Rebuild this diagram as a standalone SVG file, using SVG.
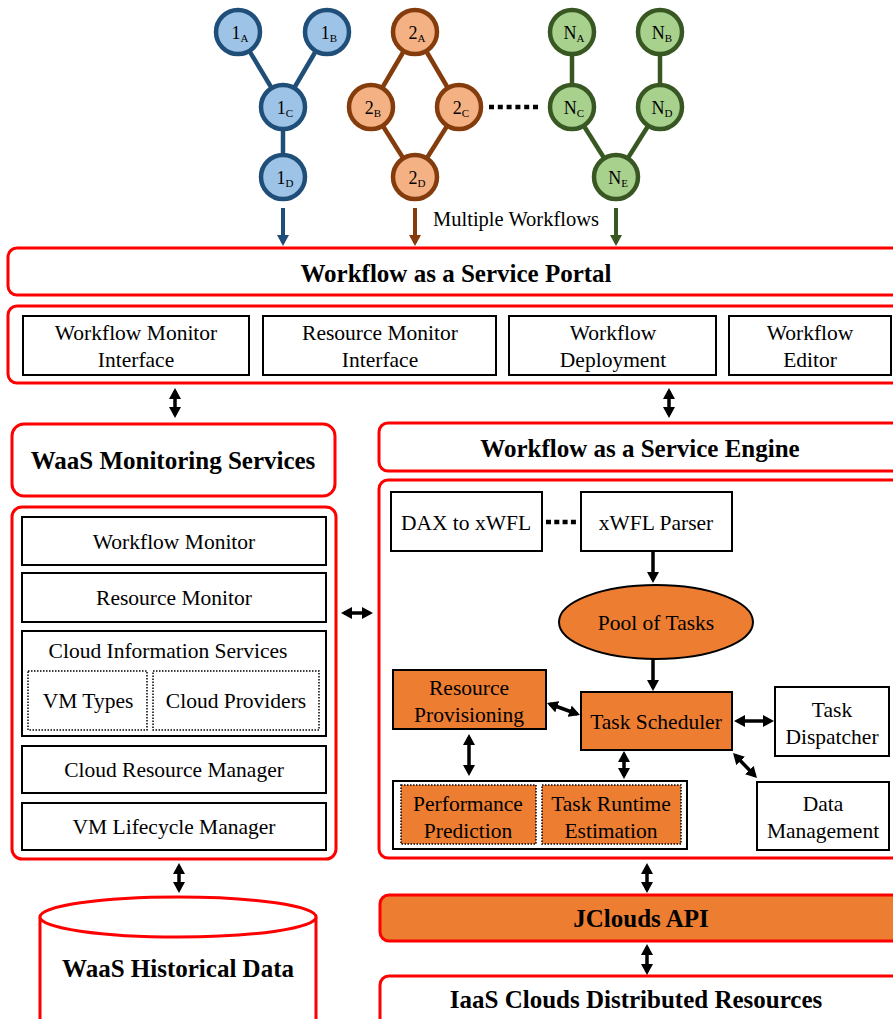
<svg xmlns="http://www.w3.org/2000/svg" width="893" height="1019" viewBox="0 0 893 1019">
<style>
.red{fill:#fff;stroke:#FF0000;stroke-width:3}
.redo{fill:#ED7D31;stroke:#FF0000;stroke-width:3}
.box{fill:#fff;stroke:#000;stroke-width:2}
.obox{fill:#ED7D31;stroke:#000;stroke-width:2}
.dot{fill:#fff;stroke:#000;stroke-width:1.5;stroke-dasharray:1.5,1.5}
.odot{fill:#ED7D31;stroke:#000;stroke-width:1.5;stroke-dasharray:1.5,1.5}
.c1{fill:#9DC3E6;stroke:#1F4E79;stroke-width:4.5}
.c2{fill:#F4B183;stroke:#843C0C;stroke-width:4.5}
.c3{fill:#A9D18E;stroke:#385723;stroke-width:4.5}
.e1{stroke:#1F4E79;stroke-width:4.5}
.e2{stroke:#843C0C;stroke-width:4.5}
.e3{stroke:#385723;stroke-width:4.5}
.dbl{stroke:#000;stroke-width:3.5;fill:none;marker-start:url(#ah);marker-end:url(#ah)}
.one{stroke:#000;stroke-width:3.5;fill:none;marker-end:url(#ah)}
.dots{stroke:#000;stroke-width:4.5}
</style>
<defs>
<marker id="ah" viewBox="0 0 11 12" markerWidth="11" markerHeight="12" refX="8" refY="6" orient="auto-start-reverse" markerUnits="userSpaceOnUse"><path d="M0,0L11,6L0,12z" fill="#000"/></marker>
<marker id="ab" viewBox="0 0 11 12" markerWidth="11" markerHeight="12" refX="8" refY="6" orient="auto" markerUnits="userSpaceOnUse"><path d="M0,0L11,6L0,12z" fill="#1F4E79"/></marker>
<marker id="ao" viewBox="0 0 11 12" markerWidth="11" markerHeight="12" refX="8" refY="6" orient="auto" markerUnits="userSpaceOnUse"><path d="M0,0L11,6L0,12z" fill="#843C0C"/></marker>
<marker id="ag" viewBox="0 0 11 12" markerWidth="11" markerHeight="12" refX="8" refY="6" orient="auto" markerUnits="userSpaceOnUse"><path d="M0,0L11,6L0,12z" fill="#385723"/></marker>
</defs>

<g id="workflow-edges">
<line class="e1" x1="238" y1="32" x2="283" y2="107"/>
<line class="e1" x1="327" y1="32" x2="283" y2="107"/>
<line class="e1" x1="283" y1="107" x2="283" y2="177"/>
<line class="e2" x1="415" y1="32" x2="371" y2="107"/>
<line class="e2" x1="415" y1="32" x2="459" y2="107"/>
<line class="e2" x1="371" y1="107" x2="415" y2="177"/>
<line class="e2" x1="459" y1="107" x2="415" y2="177"/>
<line class="e3" x1="572" y1="32" x2="572" y2="107"/>
<line class="e3" x1="660" y1="32" x2="660" y2="107"/>
<line class="e3" x1="572" y1="107" x2="616" y2="177"/>
<line class="e3" x1="660" y1="107" x2="616" y2="177"/>
<line class="dots" x1="489" y1="107" x2="538" y2="107" stroke-dasharray="5,3.8"/>
</g>

<g id="w1A"><circle class="c1" cx="238" cy="32" r="22"/><text font-family="Liberation Serif, serif" font-size="18" text-anchor="middle" x="240" y="39">1<tspan font-size="11" dy="3">A</tspan></text></g>
<g id="w1B"><circle class="c1" cx="327" cy="32" r="22"/><text font-family="Liberation Serif, serif" font-size="18" text-anchor="middle" x="329" y="39">1<tspan font-size="11" dy="3">B</tspan></text></g>
<g id="w1C"><circle class="c1" cx="283" cy="107" r="22"/><text font-family="Liberation Serif, serif" font-size="18" text-anchor="middle" x="285" y="114">1<tspan font-size="11" dy="3">C</tspan></text></g>
<g id="w1D"><circle class="c1" cx="283" cy="177" r="22"/><text font-family="Liberation Serif, serif" font-size="18" text-anchor="middle" x="285" y="184">1<tspan font-size="11" dy="3">D</tspan></text></g>
<g id="w2A"><circle class="c2" cx="415" cy="32" r="22"/><text font-family="Liberation Serif, serif" font-size="18" text-anchor="middle" x="417" y="39">2<tspan font-size="11" dy="3">A</tspan></text></g>
<g id="w2B"><circle class="c2" cx="371" cy="107" r="22"/><text font-family="Liberation Serif, serif" font-size="18" text-anchor="middle" x="373" y="114">2<tspan font-size="11" dy="3">B</tspan></text></g>
<g id="w2C"><circle class="c2" cx="459" cy="107" r="22"/><text font-family="Liberation Serif, serif" font-size="18" text-anchor="middle" x="461" y="114">2<tspan font-size="11" dy="3">C</tspan></text></g>
<g id="w2D"><circle class="c2" cx="415" cy="177" r="22"/><text font-family="Liberation Serif, serif" font-size="18" text-anchor="middle" x="417" y="184">2<tspan font-size="11" dy="3">D</tspan></text></g>
<g id="wNA"><circle class="c3" cx="572" cy="32" r="22"/><text font-family="Liberation Serif, serif" font-size="18" text-anchor="middle" x="574" y="39">N<tspan font-size="11" dy="3">A</tspan></text></g>
<g id="wNB"><circle class="c3" cx="660" cy="32" r="22"/><text font-family="Liberation Serif, serif" font-size="18" text-anchor="middle" x="662" y="39">N<tspan font-size="11" dy="3">B</tspan></text></g>
<g id="wNC"><circle class="c3" cx="572" cy="107" r="22"/><text font-family="Liberation Serif, serif" font-size="18" text-anchor="middle" x="574" y="114">N<tspan font-size="11" dy="3">C</tspan></text></g>
<g id="wND"><circle class="c3" cx="660" cy="107" r="22"/><text font-family="Liberation Serif, serif" font-size="18" text-anchor="middle" x="662" y="114">N<tspan font-size="11" dy="3">D</tspan></text></g>
<g id="wNE"><circle class="c3" cx="616" cy="177" r="22"/><text font-family="Liberation Serif, serif" font-size="18" text-anchor="middle" x="618" y="184">N<tspan font-size="11" dy="3">E</tspan></text></g>

<g id="label-multiple"><text font-family="Liberation Serif, serif" font-size="20.5" text-anchor="middle" x="516" y="226">Multiple Workflows</text></g>

<g id="portal"><rect class="red" x="8" y="248" width="900" height="47" rx="9"/><text font-family="Liberation Serif, serif" font-size="25" font-weight="bold" text-anchor="middle" x="456" y="282">Workflow as a Service Portal</text></g>
<g id="portal-components">
<rect class="red" x="8" y="306" width="900" height="77" rx="9"/>
<g id="wmi"><rect class="box" x="23" y="316" width="226" height="59"/><text font-family="Liberation Serif, serif" font-size="21.5" text-anchor="middle" x="136" y="340">Workflow Monitor</text><text font-family="Liberation Serif, serif" font-size="21.5" text-anchor="middle" x="136" y="367">Interface</text></g>
<g id="rmi"><rect class="box" x="263" y="316" width="233" height="59"/><text font-family="Liberation Serif, serif" font-size="21.5" text-anchor="middle" x="380" y="340">Resource Monitor</text><text font-family="Liberation Serif, serif" font-size="21.5" text-anchor="middle" x="380" y="367">Interface</text></g>
<g id="wd"><rect class="box" x="509" y="316" width="207" height="59"/><text font-family="Liberation Serif, serif" font-size="21.5" text-anchor="middle" x="613" y="340">Workflow</text><text font-family="Liberation Serif, serif" font-size="21.5" text-anchor="middle" x="613" y="367">Deployment</text></g>
<g id="we"><rect class="box" x="729" y="316" width="162" height="59"/><text font-family="Liberation Serif, serif" font-size="21.5" text-anchor="middle" x="810" y="340">Workflow</text><text font-family="Liberation Serif, serif" font-size="21.5" text-anchor="middle" x="810" y="367">Editor</text></g>
</g>

<g id="monitoring-title"><rect class="red" x="12" y="424" width="323" height="72" rx="12"/><text font-family="Liberation Serif, serif" font-size="25" font-weight="bold" text-anchor="middle" x="173" y="469">WaaS Monitoring Services</text></g>
<g id="monitoring">
<rect class="red" x="12" y="507" width="324" height="352" rx="10"/>
<g id="wm"><rect class="box" x="22" y="517" width="304" height="48"/><text font-family="Liberation Serif, serif" font-size="21.5" text-anchor="middle" x="174" y="549">Workflow Monitor</text></g>
<g id="rm"><rect class="box" x="22" y="573" width="304" height="49"/><text font-family="Liberation Serif, serif" font-size="21.5" text-anchor="middle" x="174" y="605">Resource Monitor</text></g>
<g id="cis"><rect class="box" x="22" y="631" width="304" height="105"/><text font-family="Liberation Serif, serif" font-size="21.5" text-anchor="middle" x="168" y="658">Cloud Information Services</text>
<g id="vmt"><rect class="dot" x="28" y="671" width="119" height="59"/><text font-family="Liberation Serif, serif" font-size="21.5" text-anchor="middle" x="88" y="708">VM Types</text></g>
<g id="cp"><rect class="dot" x="153" y="671" width="166" height="59"/><text font-family="Liberation Serif, serif" font-size="21.5" text-anchor="middle" x="236" y="708">Cloud Providers</text></g>
</g>
<g id="crm"><rect class="box" x="22" y="746" width="304" height="47"/><text font-family="Liberation Serif, serif" font-size="21.5" text-anchor="middle" x="174" y="777">Cloud Resource Manager</text></g>
<g id="vlm"><rect class="box" x="22" y="803" width="304" height="47"/><text font-family="Liberation Serif, serif" font-size="21.5" text-anchor="middle" x="174" y="834">VM Lifecycle Manager</text></g>
</g>

<g id="engine-title"><rect class="red" x="379" y="423" width="530" height="48" rx="9"/><text font-family="Liberation Serif, serif" font-size="25" font-weight="bold" text-anchor="middle" x="640" y="457">Workflow as a Service Engine</text></g>
<g id="engine">
<rect class="red" x="379" y="480" width="530" height="378" rx="9"/>
<g id="dax"><rect class="box" x="391" y="492" width="151" height="59"/><text font-family="Liberation Serif, serif" font-size="21.5" text-anchor="middle" x="466" y="530">DAX to xWFL</text></g>
<g id="parser"><rect class="box" x="581" y="492" width="151" height="59"/><text font-family="Liberation Serif, serif" font-size="21.5" text-anchor="middle" x="656" y="530">xWFL Parser</text></g>
<g id="pool"><ellipse cx="656" cy="622" rx="97" ry="37" fill="#ED7D31" stroke="#000" stroke-width="2"/><text font-family="Liberation Serif, serif" font-size="21.5" text-anchor="middle" x="656" y="630">Pool of Tasks</text></g>
<g id="scheduler"><rect class="obox" x="581" y="692" width="151" height="58"/><text font-family="Liberation Serif, serif" font-size="21.5" text-anchor="middle" x="656" y="729">Task Scheduler</text></g>
<g id="provisioning"><rect class="obox" x="393" y="670" width="153" height="59"/><text font-family="Liberation Serif, serif" font-size="21.5" text-anchor="middle" x="469" y="695">Resource</text><text font-family="Liberation Serif, serif" font-size="21.5" text-anchor="middle" x="469" y="722">Provisioning</text></g>
<g id="dispatcher"><rect class="box" x="775" y="687" width="114" height="69"/><text font-family="Liberation Serif, serif" font-size="21.5" text-anchor="middle" x="832" y="717">Task</text><text font-family="Liberation Serif, serif" font-size="21.5" text-anchor="middle" x="832" y="744">Dispatcher</text></g>
<g id="datamgmt"><rect class="box" x="757" y="782" width="132" height="68"/><text font-family="Liberation Serif, serif" font-size="21.5" text-anchor="middle" x="823" y="811">Data</text><text font-family="Liberation Serif, serif" font-size="21.5" text-anchor="middle" x="823" y="838">Management</text></g>
<g id="estimation">
<rect class="box" x="393" y="781" width="294" height="68"/>
<g id="perf"><rect class="odot" x="401" y="785" width="135" height="59"/><text font-family="Liberation Serif, serif" font-size="21.5" text-anchor="middle" x="468" y="811">Performance</text><text font-family="Liberation Serif, serif" font-size="21.5" text-anchor="middle" x="468" y="838">Prediction</text></g>
<g id="runtime"><rect class="odot" x="542" y="785" width="139" height="59"/><text font-family="Liberation Serif, serif" font-size="21.5" text-anchor="middle" x="611" y="811">Task Runtime</text><text font-family="Liberation Serif, serif" font-size="21.5" text-anchor="middle" x="611" y="838">Estimation</text></g>
</g>
</g>

<g id="historical"><path d="M40,917 L40,1030 L316,1030 L316,917" class="red"/><ellipse class="red" cx="178" cy="917" rx="138" ry="20"/><text font-family="Liberation Serif, serif" font-size="25" font-weight="bold" text-anchor="middle" x="178" y="977">WaaS Historical Data</text></g>
<g id="jclouds"><rect class="redo" x="380" y="895" width="530" height="46" rx="9"/><text font-family="Liberation Serif, serif" font-size="25" font-weight="bold" text-anchor="middle" x="641" y="927">JClouds API</text></g>
<g id="iaas"><rect class="red" x="380" y="976" width="530" height="60" rx="9"/><text font-family="Liberation Serif, serif" font-size="25" font-weight="bold" text-anchor="middle" x="636" y="1008">IaaS Clouds Distributed Resources</text></g>

<g id="connectors">
<line x1="283" y1="208" x2="283" y2="243" stroke="#1F4E79" stroke-width="4" marker-end="url(#ab)"/>
<line x1="415" y1="208" x2="415" y2="243" stroke="#843C0C" stroke-width="4" marker-end="url(#ao)"/>
<line x1="616" y1="208" x2="616" y2="243" stroke="#385723" stroke-width="4" marker-end="url(#ag)"/>
<line class="dbl" x1="175" y1="391" x2="175" y2="415"/>
<line class="dbl" x1="669" y1="391" x2="669" y2="415"/>
<line class="dbl" x1="344" y1="613" x2="370" y2="613"/>
<line class="dots" x1="546" y1="522" x2="576" y2="522" stroke-dasharray="5,3.3"/>
<line class="one" x1="653" y1="551" x2="653" y2="580"/>
<line class="one" x1="653" y1="659" x2="653" y2="688"/>
<line class="dbl" x1="549.8" y1="704" x2="577.2" y2="714"/>
<line class="dbl" x1="737" y1="721" x2="771" y2="721"/>
<line class="dbl" x1="735.1" y1="755.2" x2="754.9" y2="775.8"/>
<line class="dbl" x1="469" y1="737" x2="469" y2="773"/>
<line class="dbl" x1="624" y1="754" x2="624" y2="776"/>
<line class="dbl" x1="179" y1="866" x2="179" y2="890"/>
<line class="dbl" x1="647" y1="866" x2="647" y2="890"/>
<line class="dbl" x1="647" y1="947" x2="647" y2="972"/>
</g>
</svg>
